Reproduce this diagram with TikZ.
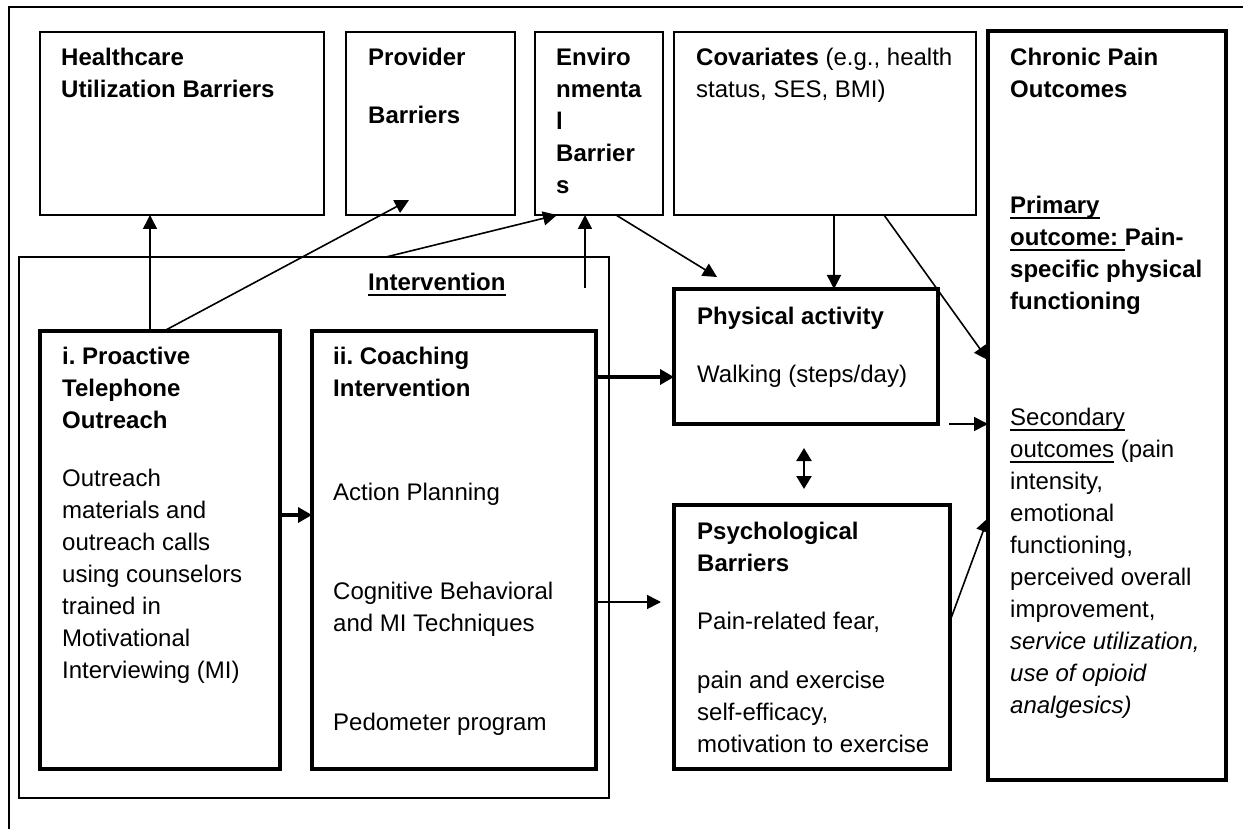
\documentclass[tikz,border=0pt]{standalone}
\usepackage{fontspec}
\setmainfont{Liberation Sans}
\usetikzlibrary{arrows.meta,positioning}

\frenchspacing
\newcommand{\boxfont}{\fontsize{24}{32}\selectfont}
% fixed first-line height, so a text node's top lies 22pt above its first baseline
\newcommand{\tp}{\rule{0pt}{22pt}}
\newcommand{\ulword}[1]{\setbox0=\hbox{#1}\rlap{\rule[-6pt]{\wd0}{1.8pt}}\box0\relax}

\tikzset{
  thinbox/.style={draw, line width=1.8pt, inner sep=0pt, outer sep=0pt, anchor=north west},
  thickbox/.style={thinbox, line width=4pt},
  txt/.style={anchor=north west, inner sep=0pt, align=left, font=\boxfont},
  arr/.style={line width=1.6pt, -{Triangle[length=14pt,width=14pt]}},
  boldarr/.style={line width=4pt, -{Triangle[length=14pt,width=15pt]}},
  twoarr/.style={line width=2.5pt, {Triangle[length=13pt,width=15pt]}-{Triangle[length=13pt,width=15pt]}},
}

\begin{document}
\begin{tikzpicture}[x=1pt,y=-1pt]
  \useasboundingbox (0,0) rectangle (1243,829);
  % frame, only top and left edges are in view
  \draw[line width=2pt] (9,829) -- (9,7) -- (1243,7);

  % top row
  \node[thinbox, minimum width=284pt, minimum height=183pt] (hcu) at (40,32) {};
  \node[thinbox, minimum width=169pt, minimum height=183pt] (prov) at (346,32) {};
  \node[thinbox, minimum width=128pt, minimum height=183pt] (env) at (535,32) {};
  \node[thinbox, minimum width=302pt, minimum height=183pt] (cov) at (674,32) {};
  \node[thickbox, minimum width=238pt, minimum height=749pt] (chron) at (988,31) {};

  \node[txt] (hcu-txt) at (61,43) {\tp\textbf{Healthcare}\\\textbf{Utilization Barriers}};
  \node[txt] (prov-txt) at (368,43) {\tp\textbf{Provider}\\[26pt]\textbf{Barriers}};
  \node[txt] (env-txt) at (556,43) {\tp\textbf{Enviro}\\\textbf{nmenta}\\\textbf{l}\\\textbf{Barrier}\\\textbf{s}};
  \node[txt] (cov-txt) at (696,43) {\tp\textbf{Covariates} (e.g., health\\status, SES, BMI)};
  \node[txt] (chron-txt) at (1010,43) {\tp\textbf{Chronic Pain}\\\textbf{Outcomes}\\[84pt]
    \textbf{\ulword{Primary}}\\\textbf{\ulword{outcome: }Pain-}\\\textbf{specific physical}\\\textbf{functioning}\\[84pt]
    \ulword{Secondary}\\\ulword{outcomes} (pain\\intensity,\\emotional\\functioning,\\perceived overall\\improvement,\\
    \textit{service utilization,}\\\textit{use of opioid}\\\textit{analgesics)}};

  % intervention block
  \node[thinbox, minimum width=590pt, minimum height=541pt] (interv) at (19,257) {};
  \node[txt] (interv-txt) at (368,268) {\tp\textbf{\ulword{Intervention}}};
  \node[thickbox, minimum width=240pt, minimum height=438pt] (proact) at (40,331) {};
  \node[thickbox, minimum width=284pt, minimum height=438pt] (coach) at (312,331) {};
  \node[txt] (proact-txt) at (62,342) {\tp\textbf{i. Proactive}\\\textbf{Telephone}\\\textbf{Outreach}\\[26pt]
    Outreach\\materials and\\outreach calls\\using counselors\\trained in\\Motivational\\Interviewing (MI)};
  \node[txt] (coach-txt) at (333,342) {\tp\textbf{ii. Coaching}\\\textbf{Intervention}\\[72pt]
    Action Planning\\[67pt]Cognitive Behavioral\\and MI Techniques\\[67pt]Pedometer program};

  % mediators
  \node[thickbox, minimum width=264pt, minimum height=135pt] (phys) at (674,289) {};
  \node[thickbox, minimum width=276pt, minimum height=264pt] (psych) at (674,505) {};
  \node[txt] (phys-txt) at (697,302) {\tp\textbf{Physical activity}\\[26pt]Walking (steps/day)};
  \node[txt] (psych-txt) at (697,517) {\tp\textbf{Psychological}\\\textbf{Barriers}\\[26pt]Pain-related fear,\\[27pt]
    pain and exercise\\self-efficacy,\\motivation to exercise};

  % arrows
  \draw[arr] ([xshift=110pt]proact.north west) -- ([xshift=110pt]hcu.south west);
  \draw[arr] ([xshift=124pt]proact.north west) -- ([xshift=63pt,yshift=15pt]prov.south west);
  \draw[arr] ([xshift=367pt]interv.north west) -- ([xshift=22pt]env.south west);
  \draw[arr] ([xshift=-24pt,yshift=-31pt]interv.north east) -- ([xshift=50pt]env.south west);
  \draw[arr] ([xshift=-47pt]env.south east) -- ([xshift=43pt,yshift=12pt]phys.north west);
  \draw[arr] ([xshift=160pt]cov.south west) -- ([xshift=160pt]phys.north west);
  \draw[arr] ([xshift=210pt]cov.south west) -- ([yshift=-329pt]chron.north west);
  \draw[boldarr] ([yshift=35pt]proact.east) -- ([yshift=35pt]coach.west);
  \coordinate (walk-in) at ([yshift=-20.5pt]phys.west);
  \draw[boldarr] (walk-in -| coach.east) -- (walk-in);
  \coordinate (psych-in) at ([xshift=-13pt,yshift=35pt]psych.west);
  \draw[arr] (psych-in -| coach.east) -- (psych-in);
  \draw[twoarr] ([xshift=130pt,yshift=-24pt]phys.south west) -- ([xshift=130pt,yshift=16pt]psych.north west);
  \draw[arr] ([xshift=11pt]phys.south east) -- (phys.south east -| chron.west);
  \draw[arr] ([yshift=-116pt]psych.north east) -- ([yshift=-487pt]chron.north west);
\end{tikzpicture}
\end{document}
